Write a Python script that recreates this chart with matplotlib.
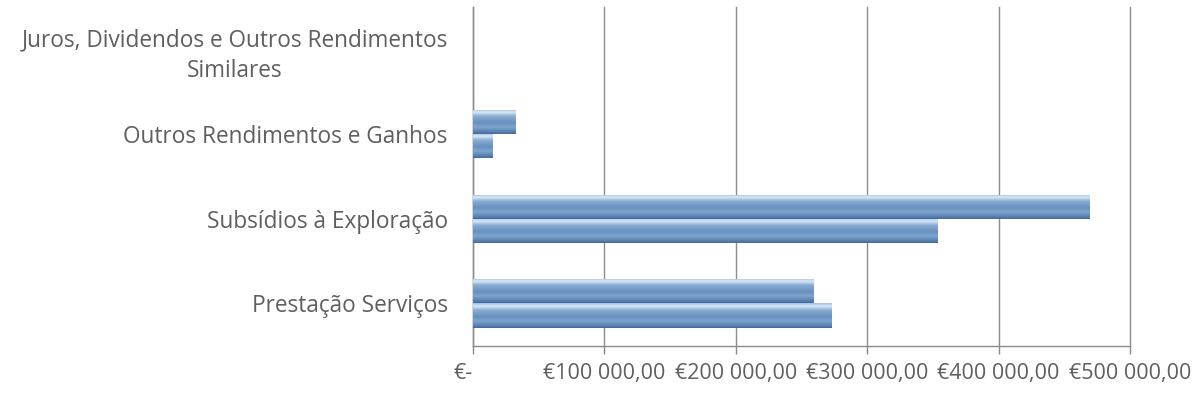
import matplotlib
matplotlib.use("Agg")
import matplotlib.pyplot as plt
import numpy as np
from matplotlib.colors import LinearSegmentedColormap

# categories listed bottom -> top, as Excel draws them
categories = [
    "Prestação Serviços",
    "Subsídios à Exploração",
    "Outros Rendimentos e Ganhos",
    "Juros, Dividendos e Outros Rendimentos\nSimilares",
]
series_a = [273000, 353000, 15000, 0]    # lower bar in each group
series_b = [259000, 469000, 32000, 0]    # upper bar in each group

x_ticks = [0, 100000, 200000, 300000, 400000, 500000]
x_tick_labels = ["€-", "€100 000,00", "€200 000,00", "€300 000,00",
                 "€400 000,00", "€500 000,00"]

TEXT = "#5f5f5f"
GRID = "#8c8c8c"

plt.rcParams["font.family"] = ["Open Sans", "DejaVu Sans"]

# vertical shading to mimic the Excel cylinder look (top -> bottom)
bar_cmap = LinearSegmentedColormap.from_list(
    "excel_blue",
    [(0.0, "#a3c0e1"), (0.12, "#d9e8f6"), (0.28, "#8aadd4"),
     (0.55, "#6690be"), (0.72, "#7fa5ce"), (0.9, "#5a84b3"),
     (1.0, "#46699a")])

fig = plt.figure(figsize=(12, 4.05), dpi=100)
fig.patch.set_facecolor("white")
ax = fig.add_axes([0.394, 0.146, 0.5477, 0.837])

y = np.arange(len(categories))
h = 0.286
bars_a = ax.barh(y - h / 2, series_a, height=h, color="#6690be",
                 edgecolor="none", zorder=3)
bars_b = ax.barh(y + h / 2, series_b, height=h, color="#6690be",
                 edgecolor="none", zorder=3)

grad = np.linspace(0, 1, 64).reshape(-1, 1)
for patch in list(bars_a) + list(bars_b):
    w = patch.get_width()
    if w <= 0:
        continue
    x0, y0, ht = patch.get_x(), patch.get_y(), patch.get_height()
    im = ax.imshow(grad, extent=[x0, x0 + w, y0, y0 + ht], aspect="auto",
                   cmap=bar_cmap, origin="upper", zorder=4,
                   interpolation="bilinear")
    im.set_clip_path(patch)

ax.set_xlim(0, 500000)
ax.set_ylim(-0.5, len(categories) - 0.5)

ax.set_xticks(x_ticks)
ax.set_xticklabels(x_tick_labels, fontsize=15.5, color=TEXT)
ax.get_xticklabels()[0].set_ha("right")
ax.set_yticks(y)
ax.set_yticklabels(categories, fontsize=16.3, color=TEXT,
                   multialignment="center", linespacing=1.35)
ax.tick_params(axis="y", length=0, pad=18)
ax.tick_params(axis="x", length=6, width=1, color=GRID, pad=6)

ax.xaxis.grid(True, color=GRID, linewidth=1)
for line in ax.get_xgridlines():
    line.set_clip_on(False)
ax.set_axisbelow(True)
for side in ("top", "right"):
    ax.spines[side].set_visible(False)
for side in ("left", "bottom"):
    ax.spines[side].set_color(GRID)
    ax.spines[side].set_linewidth(1)

fig.savefig("out.png", dpi=100, facecolor="white")
